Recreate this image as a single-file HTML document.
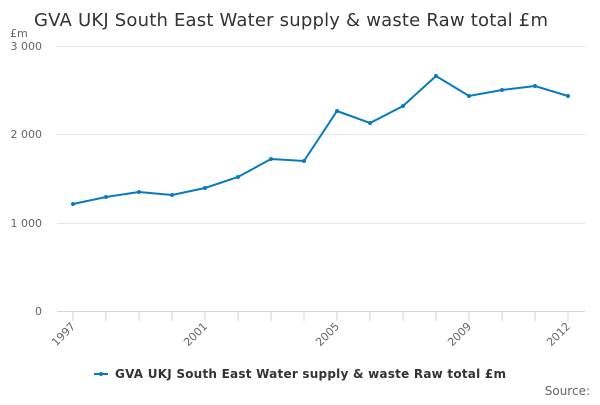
<!DOCTYPE html>
<html><head><meta charset="utf-8"><style>body{margin:0;background:#fff}</style></head><body>
<svg width="600" height="400" xmlns="http://www.w3.org/2000/svg" font-family="'DejaVu Sans', 'Liberation Sans', sans-serif">
<text x="34" y="26" font-size="18" fill="#333" textLength="514">GVA UKJ South East Water supply &amp; waste Raw total £m</text>
<text x="10" y="37" font-size="11" fill="#666">£m</text>
<g stroke="#e6e6e6" stroke-width="1">
<line x1="57" y1="46.5" x2="585" y2="46.5"/>
<line x1="57" y1="134.5" x2="585" y2="134.5"/>
<line x1="57" y1="223.5" x2="585" y2="223.5"/>
</g>
<line x1="57" y1="311.5" x2="585" y2="311.5" stroke="#ccd6eb"/>
<g stroke="#ccd6eb">
<line x1="73" y1="311" x2="73" y2="321"/><line x1="106" y1="311" x2="106" y2="321"/><line x1="139" y1="311" x2="139" y2="321"/><line x1="172" y1="311" x2="172" y2="321"/><line x1="205" y1="311" x2="205" y2="321"/><line x1="238" y1="311" x2="238" y2="321"/><line x1="271" y1="311" x2="271" y2="321"/><line x1="304" y1="311" x2="304" y2="321"/><line x1="337" y1="311" x2="337" y2="321"/><line x1="370" y1="311" x2="370" y2="321"/><line x1="403" y1="311" x2="403" y2="321"/><line x1="436" y1="311" x2="436" y2="321"/><line x1="469" y1="311" x2="469" y2="321"/><line x1="502" y1="311" x2="502" y2="321"/><line x1="535" y1="311" x2="535" y2="321"/><line x1="568" y1="311" x2="568" y2="321"/>
</g>
<g font-size="11" fill="#666" text-anchor="end">
<text x="42" y="50">3 000</text><text x="42" y="138">2 000</text><text x="42" y="227">1 000</text><text x="42" y="315">0</text>
<text transform="translate(76,327) rotate(-45)">1997</text>
<text transform="translate(208,327) rotate(-45)">2001</text>
<text transform="translate(340,327) rotate(-45)">2005</text>
<text transform="translate(472,327) rotate(-45)">2009</text>
<text transform="translate(571,327) rotate(-45)">2012</text>
</g>
<polyline fill="none" stroke="#0a7abf" stroke-width="2" points="73,204 106,197 139,192 172,195 205,188 238,177 271,159 304,161 337,111 370,123 403,106 436,76 469,96 502,90 535,86 568,96"/>
<g fill="#0a7abf">
<circle cx="73" cy="204" r="2"/><circle cx="106" cy="197" r="2"/><circle cx="139" cy="192" r="2"/><circle cx="172" cy="195" r="2"/><circle cx="205" cy="188" r="2"/><circle cx="238" cy="177" r="2"/><circle cx="271" cy="159" r="2"/><circle cx="304" cy="161" r="2"/><circle cx="337" cy="111" r="2"/><circle cx="370" cy="123" r="2"/><circle cx="403" cy="106" r="2"/><circle cx="436" cy="76" r="2"/><circle cx="469" cy="96" r="2"/><circle cx="502" cy="90" r="2"/><circle cx="535" cy="86" r="2"/><circle cx="568" cy="96" r="2"/>
</g>
<line x1="94" y1="374" x2="108" y2="374" stroke="#0a7abf" stroke-width="2"/>
<circle cx="101" cy="374" r="2" fill="#0a7abf"/>
<text x="115" y="378" font-size="12" font-weight="bold" fill="#333" textLength="391">GVA UKJ South East Water supply &amp; waste Raw total £m</text>
<text x="590" y="395" font-size="12" fill="#666" text-anchor="end">Source:</text>
</svg>
</body></html>
